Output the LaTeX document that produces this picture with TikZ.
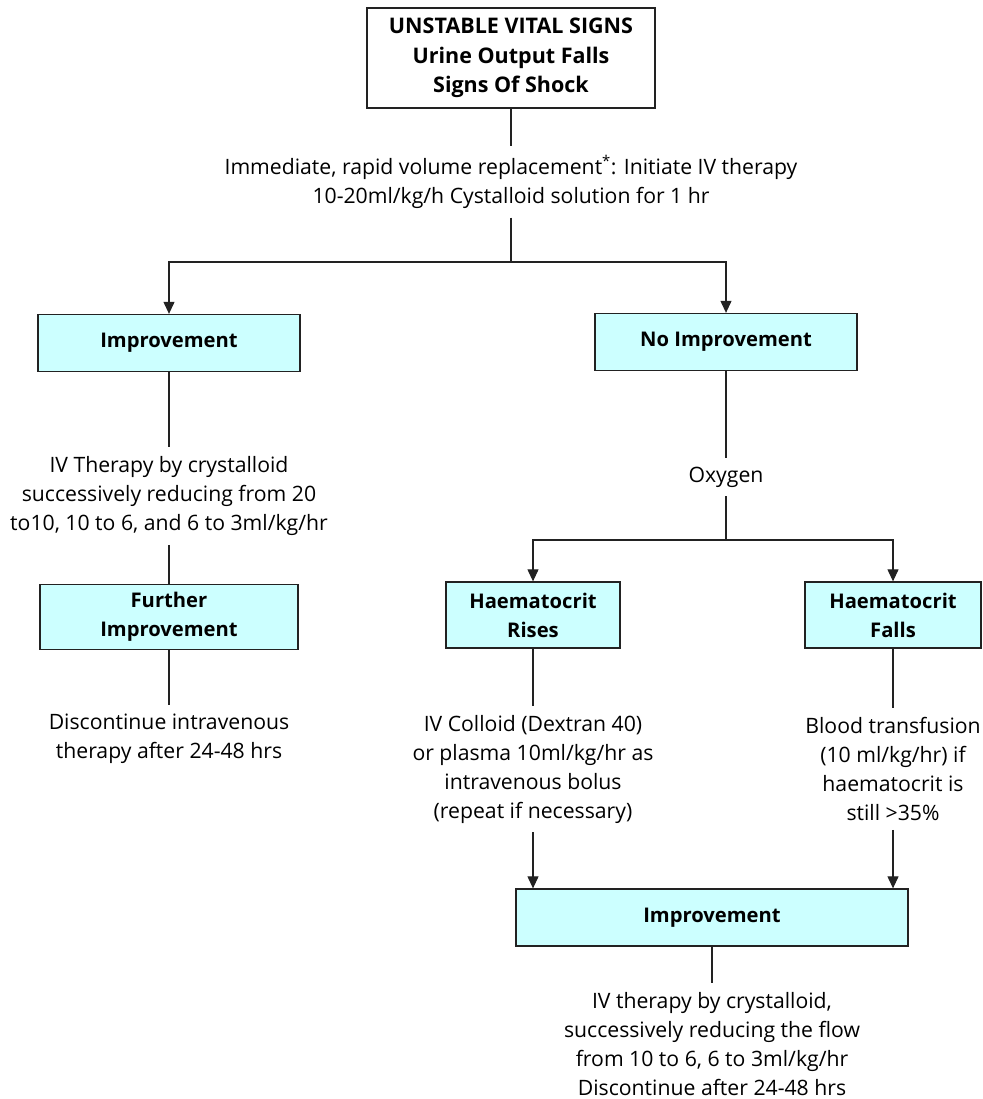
\documentclass[tikz,border=0pt]{standalone}
\usepackage{fontspec}
\setmainfont{Open Sans}
\usetikzlibrary{arrows.meta}
\definecolor{boxfill}{HTML}{CCFFFF}
\definecolor{ln}{HTML}{222222}
\begin{document}
\begin{tikzpicture}[x=1pt,y=-1pt,
  font=\fontsize{21.2}{29}\selectfont,
  box/.style={draw=ln, line width=1.3pt, fill=boxfill, font=\fontsize{20.2}{29}\selectfont\bfseries, align=center, inner sep=0pt},
  topbox/.style={draw=ln, line width=1.3pt, fill=white, font=\fontsize{21.5}{29.5}\selectfont\bfseries, align=center, inner sep=0pt},
  txt/.style={align=center, inner xsep=2pt, inner ysep=9pt},
  con/.style={draw=ln, line width=1.1pt},
  arr/.style={con, -{Triangle[width=11pt,length=12pt]}}]
\useasboundingbox (0,0) rectangle (982,1099);
% boxes
\node[topbox, minimum width=288pt, minimum height=100pt] (top) at (511,58) {UNSTABLE VITAL SIGNS\\Urine Output Falls\\Signs Of Shock};
\node[txt] (t1) at (511,182) {Immediate, rapid volume replacement\textsuperscript{*}: Initiate IV therapy\\10-20ml/kg/h Cystalloid solution for 1 hr};
\coordinate (j1) at (511,262);
\node[box, minimum width=262pt, minimum height=57pt] (imp) at (169,343) {Improvement};
\node[box, minimum width=262pt, minimum height=57pt] (noimp) at (726,342) {No Improvement};
\node[txt] (t2) at (169,496) {IV Therapy by crystalloid\\successively reducing from 20\\to10, 10 to 6, and 6 to 3ml/kg/hr};
\node[box, minimum width=258pt, minimum height=65pt] (furth) at (169,617) {Further\\Improvement};
\node[txt] (t3) at (169,739) {Discontinue intravenous\\therapy after 24-48 hrs};
\node[txt] (oxy) at (726,477) {Oxygen};
\coordinate (j2) at (726,540);
\node[box, minimum width=174pt, minimum height=66pt] (rises) at (533,615) {Haematocrit\\Rises};
\node[box, minimum width=176pt, minimum height=66pt] (falls) at (893,615) {Haematocrit\\Falls};
\node[txt] (t4) at (533,769) {IV Colloid (Dextran 40)\\or plasma 10ml/kg/hr as\\intravenous bolus\\(repeat if necessary)};
\node[txt] (t5) at (893,769) {Blood transfusion\\(10 ml/kg/hr) if\\haematocrit is\\still {>}35\%};
\node[box, minimum width=392pt, minimum height=57pt] (bimp) at (712,917.5) {Improvement};
\node[txt] (t6) at (712,1044) {IV therapy by crystalloid,\\successively reducing the flow\\from 10 to 6, 6 to 3ml/kg/hr\\Discontinue after 24-48 hrs};
% connectors
\draw[con] (top.south) -- (t1.north);
\draw[con] (t1.south) -- (j1);
\draw[arr] (j1) -| (imp.north);
\draw[arr] (j1) -| (noimp.north);
\draw[con] (imp.south) -- (t2.north);
\draw[con] (t2.south) -- (furth.north);
\draw[con] (furth.south) -- (t3.north);
\draw[con] (noimp.south) -- (oxy.north);
\draw[con] (oxy.south) -- (j2);
\draw[arr] (j2) -| (rises.north);
\draw[arr] (j2) -| (falls.north);
\draw[con] (rises.south) -- (t4.north);
\draw[con] (falls.south) -- (t5.north);
\draw[arr] (t4.south) -- (t4.south |- bimp.north);
\draw[arr] (t5.south) -- (t5.south |- bimp.north);
\draw[con] (bimp.south) -- (t6.north);
\end{tikzpicture}
\end{document}
